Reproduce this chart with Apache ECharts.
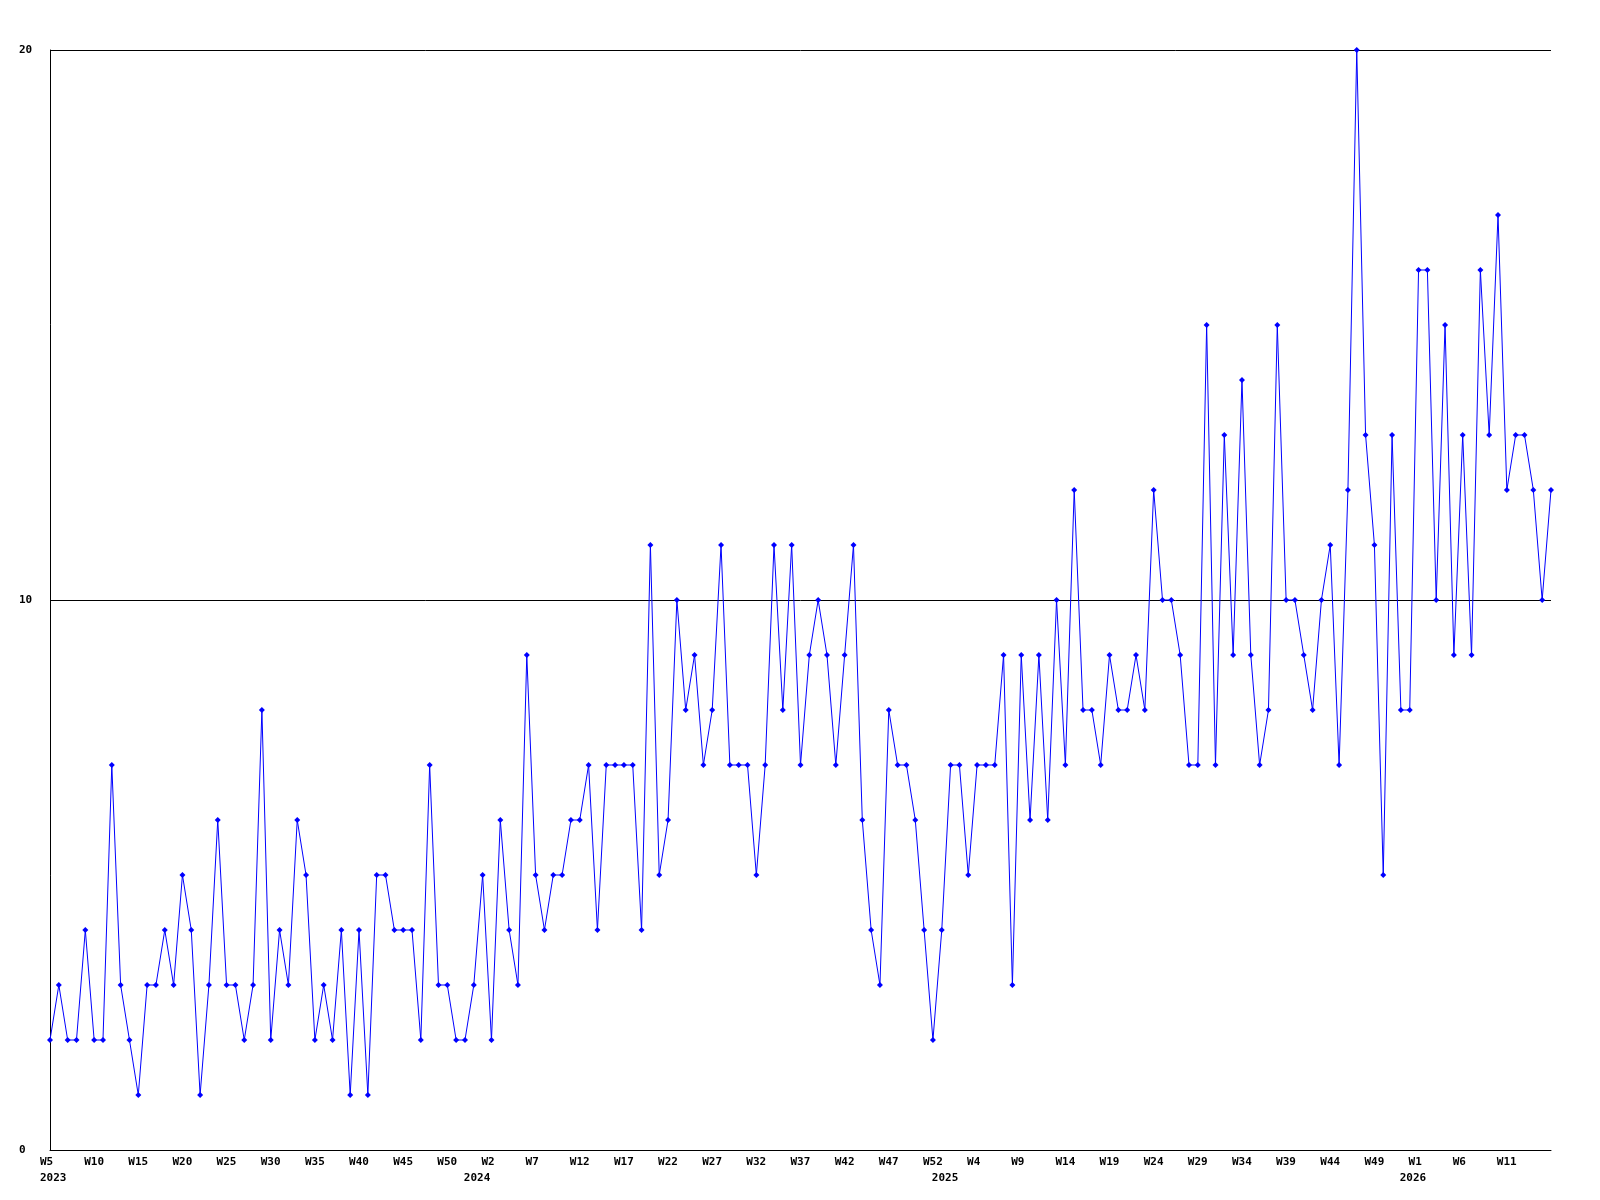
<!DOCTYPE html>
<html>
<head>
<meta charset="utf-8">
<script src="https://cdn.jsdelivr.net/npm/echarts/dist/echarts.min.js"></script>
<style>
html,body{margin:0;padding:0;background:#fff;}
#chart{width:1600px;height:1200px;}
</style>
</head>
<body>
<div id="chart"></div>
<script>
// Week ranges per year: [year, firstWeek, lastWeek]
const weekRanges = [[2023, 5, 52], [2024, 0, 52], [2025, 0, 52], [2026, 0, 16]];

// Weekly counts
const counts2023 = [2,3,2,2,4,2,2,7,3,2,1,3,3,4,3,5,4,1,3,6,3,3,2,3,8,2,4,3,6,5,2,3,2,4,1,4,1,5,5,4,4,4,2,7,3,3,2,2];
const counts2024 = [3,5,2,6,4,3,9,5,4,5,5,6,6,7,4,7,7,7,7,4,11,5,6,10,8,9,7,8,11,7,7,7,5,7,11,8,11,7,9,10,9,7,9,11,6,4,3,8,7,7,6,4,2];
const counts2025 = [4,7,7,5,7,7,7,9,3,9,6,9,6,10,7,12,8,8,7,9,8,8,9,8,12,10,10,9,7,7,15,7,13,9,14,9,7,8,15,10,10,9,8,10,11,7,12,20,13,11,5,13,8];
const counts2026 = [8,16,16,10,15,9,13,9,16,13,17,12,13,13,12,10,12];

const yTicks = [0, 10, 20];

const categories = [];
const catWeek = [];
const catYear = [];
const yearStarts = [];
weekRanges.forEach(function (r) {
  yearStarts.push(categories.length);
  for (let w = r[1]; w <= r[2]; w++) {
    categories.push(r[0] + '-W' + w);
    catWeek.push(w);
    catYear.push(r[0]);
  }
});
const values = counts2023.concat(counts2024, counts2025, counts2026);

const labelFont = {fontFamily: 'DejaVu Sans Mono', fontWeight: 'bold', fontSize: 11, color: '#000'};

const chart = echarts.init(document.getElementById('chart'), null, {renderer: 'canvas'});
chart.setOption({
  animation: false,
  backgroundColor: '#fff',
  grid: [
    {left: 50, right: 49, top: 50, bottom: 50},
    {left: 40, right: 59, top: 50, bottom: 50}
  ],
  xAxis: [
    {
      type: 'category', gridIndex: 0, data: categories, boundaryGap: false,
      axisLine: {show: true, lineStyle: {color: '#000', width: 1}},
      axisTick: {show: false}, axisLabel: {show: false}, splitLine: {show: false}
    },
    {
      type: 'category', gridIndex: 1, data: categories, boundaryGap: false,
      axisLine: {show: false}, axisTick: {show: false}, splitLine: {show: false},
      axisLabel: Object.assign({
        show: true,
        align: 'left',
        margin: 4,
        lineHeight: 16,
        hideOverlap: false,
        interval: function (i) { return (i % 5 === 0 && i < categories.length - 1) || yearStarts.indexOf(i) >= 0; },
        formatter: function (v, i) {
          let s = (i % 5 === 0 && i < categories.length - 1) ? ('W' + catWeek[i]) : '';
          if (yearStarts.indexOf(i) >= 0) s += '\n' + catYear[i];
          return s;
        }
      }, labelFont)
    }
  ],
  yAxis: [
    {
      type: 'value', gridIndex: 0, min: yTicks[0], max: yTicks[yTicks.length - 1], interval: 10,
      axisLine: {show: true, lineStyle: {color: '#000', width: 1}},
      axisTick: {show: false},
      axisLabel: Object.assign({margin: 31, align: 'left'}, labelFont),
      splitLine: {show: true, lineStyle: {color: '#000', width: 1}}
    },
    {type: 'value', gridIndex: 1, min: 0, max: 20, show: false}
  ],
  series: [{
    type: 'line', xAxisIndex: 0, yAxisIndex: 0, data: values,
    symbol: 'diamond', symbolSize: 6, showSymbol: true, showAllSymbol: true,
    lineStyle: {color: '#0000ff', width: 1},
    itemStyle: {color: '#0000ff'}
  }]
});
</script>
</body>
</html>
